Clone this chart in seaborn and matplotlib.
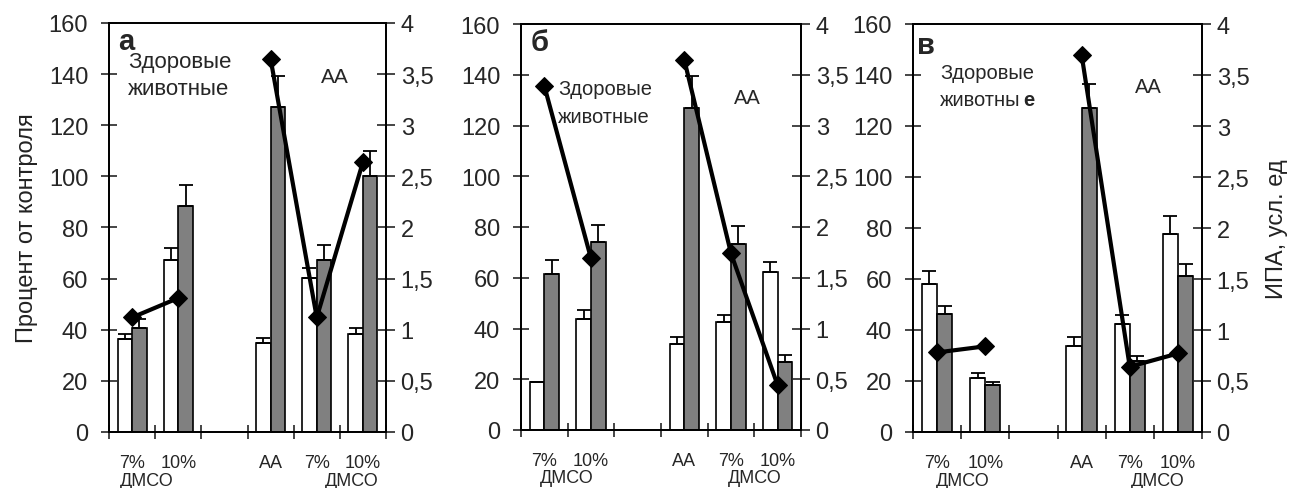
import numpy as np
import pandas as pd
import matplotlib
matplotlib.use("Agg")
import matplotlib.pyplot as plt
import matplotlib.transforms as mtransforms
import seaborn as sns

# slots on the x axis (slot "gap" stays empty)
slots = ["h7", "h10", "gap", "aa", "aa7", "aa10"]
bar_slots = ["h7", "h10", "aa", "aa7", "aa10"]
line_pos = [0, 1, 3, 4, 5]
line_seg = [0, 0, 1, 1, 1]

# panel а
a_white = [36.2, 67.2, 34.7, 60.2, 38.4]
a_white_err = [38.4, 71.9, 36.9, 64.1, 40.8]
a_gray = [40.8, 88.3, 127.3, 67.4, 100.0]
a_gray_err = [44.2, 96.8, 139.4, 73.2, 109.8]
a_ipa = [1.12, 1.31, 3.65, 1.12, 2.64]

# panel б
b_white = [18.8, 43.7, 33.9, 42.4, 62.1]
b_white_err = [19.0, 47.3, 36.6, 45.3, 66.1]
b_gray = [61.3, 74.1, 127.0, 73.3, 26.7]
b_gray_err = [67.0, 80.9, 139.5, 80.3, 29.6]
b_ipa = [3.39, 1.69, 3.645, 1.74, 0.44]

# panel в
v_white = [58.1, 21.2, 33.7, 42.2, 77.8]
v_white_err = [63.1, 23.2, 37.1, 45.7, 84.8]
v_gray = [46.4, 18.3, 127.0, 28.0, 61.1]
v_gray_err = [49.6, 19.6, 136.5, 29.8, 65.8]
v_ipa = [0.78, 0.84, 3.70, 0.64, 0.77]

left_ticks = [0, 20, 40, 60, 80, 100, 120, 140, 160]
right_ticks = [0, 0.5, 1, 1.5, 2, 2.5, 3, 3.5, 4]
right_labels = ["0", "0,5", "1", "1,5", "2", "2,5", "3", "3,5", "4"]
bottom_labels = ["7%", "10%", "АА", "7%", "10%"]

sns.set_style("ticks")
plt.rcParams["font.family"] = ["Liberation Sans", "DejaVu Sans"]

W, H = 1289, 489
fig = plt.figure(figsize=(W / 100, H / 100), dpi=100)


def box(l, r, t, b):
    return [l / W, (H - b) / H, (r - l) / W, (b - t) / H]


def panel(rect, white, white_err, gray, gray_err, ipa, letter, txt, dmso_x):
    ax = fig.add_axes(rect)
    df = pd.DataFrame({
        "slot": bar_slots * 2,
        "pct": white + gray,
        "grp": ["w"] * 5 + ["g"] * 5,
    })
    sns.barplot(data=df, x="slot", y="pct", hue="grp", order=slots,
                hue_order=["w", "g"], palette=["white", "#808080"],
                saturation=1, edgecolor="black", linewidth=1.2,
                width=0.63, errorbar=None, legend=False, ax=ax)
    # upper error bars only
    for cont, tops in zip(ax.containers, [white_err, gray_err]):
        xs = [b.get_x() + b.get_width() / 2 for b in cont]
        hs = [b.get_height() for b in cont]
        up = [t - h for t, h in zip(tops, hs)]
        ax.errorbar(xs, hs, yerr=[np.zeros(len(hs)), up], fmt="none",
                    ecolor="black", elinewidth=1.3, capsize=5, capthick=1.3,
                    zorder=3)
    ax.set_xlim(-0.5, 5.5)
    ax.set_ylim(0, 160)
    ax.set_yticks(left_ticks)
    ax.set_xticks(np.arange(-0.5, 6, 1))
    ax.set_xticklabels([])
    ax.set_xlabel("")
    ax.set_ylabel("")
    ax.tick_params(axis="y", direction="inout", length=12, width=1.2,
                   labelsize=17, pad=9)
    ax.tick_params(axis="x", direction="inout", length=10, width=1.2)
    for s in ax.spines.values():
        s.set_visible(True)
        s.set_linewidth(1.3)
        s.set_color("black")

    ax2 = ax.twinx()
    ldf = pd.DataFrame({"x": line_pos, "ipa": ipa, "seg": line_seg})
    sns.lineplot(data=ldf, x="x", y="ipa", units="seg", estimator=None,
                 sort=False, color="black", linewidth=3, marker="D",
                 markersize=9, markeredgecolor="black", ax=ax2)
    ax2.set_xlim(-0.5, 5.5)
    ax2.set_ylim(0, 4)
    ax2.set_yticks(right_ticks)
    ax2.set_yticklabels(right_labels)
    ax2.set_ylabel("")
    ax2.tick_params(axis="y", direction="inout", length=13, width=1.2,
                    labelsize=17, pad=4)
    for s in ax2.spines.values():
        s.set_linewidth(1.3)
        s.set_color("black")

    tr = mtransforms.blended_transform_factory(ax.transData, ax.transAxes)
    for xp, lab in zip(line_pos, bottom_labels):
        ax.text(xp, -0.075, lab, transform=tr, ha="center", va="center",
                fontsize=13)
    for xp in dmso_x:
        ax.text(xp, -0.118, "ДМСО", transform=tr, ha="center", va="center",
                fontsize=13)
    lx, ly = letter[1], letter[2]
    ax.text(lx, ly, letter[0], transform=tr, ha="center", va="center",
            fontsize=21, fontweight="bold")
    for t in txt:
        ax.text(t[1], t[2], t[0], transform=tr, ha=t[3], va="center",
                fontsize=t[4])
    return ax, ax2


ax_a, ax_a2 = panel(box(109, 386, 24, 433), a_white, a_white_err, a_gray,
                    a_gray_err, a_ipa, ("а", -0.13, 0.956),
                    [("Здоровые", -0.09, 0.907, "left", 16),
                     ("животные", -0.09, 0.839, "left", 16),
                     ("АА", 4.39, 0.868, "center", 15)],
                    [0.32, 4.76])
ax_a.set_ylabel("Процент от контроля", fontsize=17, color="#222222",
                labelpad=8)

ax_b, ax_b2 = panel(box(521, 801, 25, 431), b_white, b_white_err, b_gray,
                    b_gray_err, b_ipa, ("б", -0.11, 0.956),
                    [("Здоровые", 0.29, 0.842, "left", 14.5),
                     ("животные", 0.29, 0.773, "left", 14.5),
                     ("АА", 4.36, 0.82, "center", 14.5)],
                    [0.49, 4.5])

ax_v, ax_v2 = panel(box(913, 1202, 25, 433), v_white, v_white_err, v_gray,
                    v_gray_err, v_ipa, ("в", -0.23, 0.949),
                    [("Здоровые", 0.06, 0.882, "left", 14.5),
                     ("животны", 0.06, 0.816, "left", 14.5),
                     ("АА", 4.38, 0.848, "center", 14.5)],
                    [0.54, 4.58])
tr_v = mtransforms.blended_transform_factory(ax_v.transData, ax_v.transAxes)
ax_v.text(1.9, 0.816, "е", transform=tr_v, ha="center", va="center",
          fontsize=14.5, fontweight="bold")
ax_v2.set_ylabel("ИПА, усл. ед", fontsize=17, color="#222222", labelpad=12)

fig.savefig("out.png", dpi=100)
